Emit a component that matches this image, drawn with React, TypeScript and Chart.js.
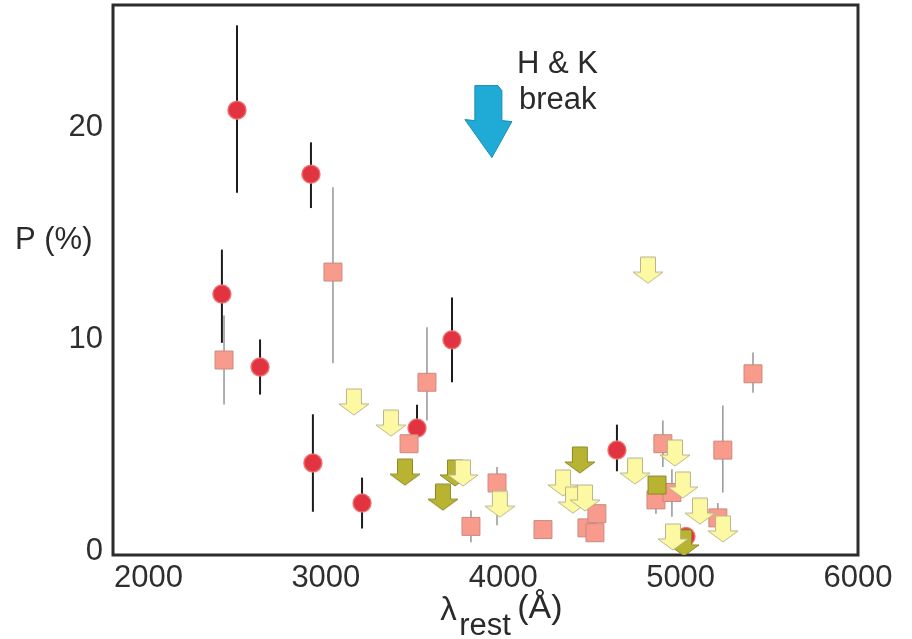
import React, { useEffect, useRef } from 'react';
import { Chart, registerables } from 'chart.js';
Chart.register(...registerables);

// ---- axis ticks ----
const xTicks = [2000, 3000, 4000, 5000, 6000];
const yTicks = [0, 10, 20];

// ---- red circles: detections (black error bars) ----
const circleX = [2499, 2916, 2414, 2629, 2927, 3204, 3711, 3514, 4641, 5030];
const circleY = [20.84, 17.82, 12.16, 8.72, 4.19, 2.3, 10.0, 5.84, 4.8, 0.72];
const circleErrLo = [3.9, 1.6, 2.3, 1.3, 2.3, 1.2, 2.0, 1.1, 1.0, 0];
const circleErrHi = [4.0, 1.5, 2.1, 1.3, 2.3, 1.2, 2.0, 1.1, 1.2, 0];

// ---- salmon squares (grey error bars) ----
const squareX = [3040, 2426, 3570, 3469, 3818, 3965, 4224, 4472, 4517, 4528, 4900, 4861, 4951, 5238, 5408, 5210];
const squareY = [13.2, 9.05, 8.0, 5.1, 1.2, 3.25, 1.05, 1.13, 0.9, 1.8, 5.1, 2.45, 2.8, 4.8, 8.4, 1.6];
const squareErrLo = [4.3, 2.1, 1.8, 0, 0.75, 2.0, 0, 0, 0, 0, 1.1, 0.65, 1.15, 2.0, 0.9, 0.3];
const squareErrHi = [4.0, 2.1, 2.6, 0, 0.75, 0.75, 0, 0, 0, 0.3, 1.1, 0, 1.1, 2.1, 1.0, 0.7];

// ---- olive square ----
const oliveSqX = [4867];
const oliveSqY = [3.15];

// ---- yellow upper-limit arrows ----
const yellowX = [3158, 3367, 3773, 3981, 4337, 4393, 4461, 4743, 4968, 5013, 5109, 4957, 5239, 4816];
const yellowY = [7.07, 6.07, 3.72, 2.25, 3.25, 2.44, 2.54, 3.81, 4.66, 3.15, 1.92, 0.7, 1.08, 13.29];

// ---- olive upper-limit arrows ----
const oliveX = [3446, 3660, 3728, 4432, 5019];
const oliveY = [3.76, 2.58, 3.72, 4.33, 0.42];

// ---- H & K break marker ----
const hkX = 3936;
const hkY = 18.6;

const FONT = '"Liberation Sans", Arial, Helvetica, sans-serif';

function makeArrow(fill: string, stroke: string): HTMLCanvasElement {
  const c = document.createElement('canvas');
  c.width = 32;
  c.height = 28;
  const g = c.getContext('2d')!;
  g.beginPath();
  g.moveTo(8.5, 1);
  g.lineTo(23.5, 1);
  g.lineTo(23.5, 16);
  g.lineTo(31, 16);
  g.lineTo(16, 27);
  g.lineTo(1, 16);
  g.lineTo(8.5, 16);
  g.closePath();
  g.fillStyle = fill;
  g.fill();
  g.strokeStyle = stroke;
  g.lineWidth = 1;
  g.stroke();
  return c;
}

const pts = (xs: number[], ys: number[]) => xs.map((x, i) => ({ x, y: ys[i] }));

export default function App() {
  const ref = useRef<HTMLCanvasElement>(null);
  useEffect(() => {
    const yellowArrow = makeArrow('#fdf8a2', '#b9b58c');
    const oliveArrow = makeArrow('#b8b432', '#8b8826');

    const overlay = {
      id: 'overlay',
      beforeDatasetsDraw(chart: any) {
        const { ctx, chartArea: a, scales } = chart;
        const xs = scales.x;
        const ys = scales.y;
        ctx.save();
        const drawErr = (X: number[], Y: number[], lo: number[], hi: number[], color: string, w: number) => {
          ctx.strokeStyle = color;
          ctx.lineWidth = w;
          X.forEach((xv, i) => {
            if (!lo[i] && !hi[i]) return;
            const px = xs.getPixelForValue(xv);
            ctx.beginPath();
            ctx.moveTo(px, ys.getPixelForValue(Y[i] + hi[i]));
            ctx.lineTo(px, ys.getPixelForValue(Y[i] - lo[i]));
            ctx.stroke();
          });
        };
        drawErr(squareX, squareY, squareErrLo, squareErrHi, '#8e8e8e', 1.4);
        drawErr(circleX, circleY, circleErrLo, circleErrHi, '#1c1c1c', 2);
        ctx.strokeStyle = '#2c2c2c';
        ctx.lineWidth = 3;
        ctx.strokeRect(a.left, a.top, a.right - a.left, a.bottom - a.top);
        ctx.restore();
      },
      afterDraw(chart: any) {
        const { ctx, scales } = chart;
        const xs = scales.x;
        const ys = scales.y;
        ctx.save();
        // blue H&K arrow
        const tx = xs.getPixelForValue(hkX);
        const ty = ys.getPixelForValue(hkY);
        ctx.beginPath();
        ctx.moveTo(tx - 17, ty - 72);
        ctx.lineTo(tx + 6, ty - 72);
        ctx.lineTo(tx + 10, ty - 67);
        ctx.lineTo(tx + 10, ty - 37);
        ctx.lineTo(tx + 20, ty - 36);
        ctx.lineTo(tx, ty);
        ctx.lineTo(tx - 27, ty - 38);
        ctx.lineTo(tx - 17, ty - 37);
        ctx.closePath();
        ctx.fillStyle = '#1fabd6';
        ctx.fill();
        ctx.strokeStyle = '#178cb3';
        ctx.lineWidth = 1;
        ctx.stroke();

        ctx.fillStyle = '#2a2a2a';
        ctx.textAlign = 'left';
        ctx.textBaseline = 'alphabetic';
        ctx.font = `31px ${FONT}`;
        ctx.fillText('H & K', tx + 25, ty - 85);
        ctx.fillText('break', tx + 27, ty - 49);

        // y axis title
        const yl = ys.getPixelForValue(14.3);
        ctx.fillText('P (%)', 15, yl);

        // x axis title: λ_rest (Å)
        const xc = xs.getPixelForValue(4000);
        const base = chart.height - 19;
        ctx.font = `33px ${FONT}`;
        ctx.fillText('λ', xc - 63, base);
        ctx.font = `31px ${FONT}`;
        ctx.fillText('rest', xc - 44, base + 15);
        ctx.font = `34px ${FONT}`;
        ctx.fillText('(Å)', xc + 14, base - 2);
        ctx.restore();
      },
    };

    const chart = new Chart(ref.current!, {
      type: 'scatter',
      data: {
        datasets: [
          {
            label: 'detections',
            data: pts(circleX, circleY),
            pointStyle: 'circle',
            pointRadius: 9,
            backgroundColor: '#e23340',
            borderColor: 'rgba(238,110,110,0.9)',
            borderWidth: 1.5,
            order: 5,
          },
          {
            label: 'squares',
            data: pts(squareX, squareY),
            pointStyle: 'rect',
            pointRadius: 12.7,
            backgroundColor: '#f89b8d',
            borderColor: '#c98a7e',
            borderWidth: 1,
            order: 4,
          },
          {
            label: 'olive square',
            data: pts(oliveSqX, oliveSqY),
            pointStyle: 'rect',
            pointRadius: 12.7,
            backgroundColor: '#b8b432',
            borderColor: '#8b8826',
            borderWidth: 1,
            order: 3,
          },
          {
            label: 'olive limits',
            data: pts(oliveX, oliveY),
            pointStyle: oliveArrow as any,
            order: 2,
          },
          {
            label: 'yellow limits',
            data: pts(yellowX, yellowY),
            pointStyle: yellowArrow as any,
            order: 1,
          },
        ],
      },
      options: {
        animation: false,
        responsive: true,
        maintainAspectRatio: false,
        events: [],
        layout: { autoPadding: false, padding: { top: 5, right: 54, left: 0, bottom: 0 } },
        plugins: { legend: { display: false }, tooltip: { enabled: false } },
        scales: {
          x: {
            type: 'linear',
            min: 1800,
            max: 6000,
            afterBuildTicks: (s: any) => {
              s.ticks = xTicks.map((v) => ({ value: v }));
            },
            afterFit: (s: any) => {
              s.height = 84;
              s.paddingLeft = 0;
              s.paddingRight = 0;
            },
            grid: { display: false, drawTicks: false },
            border: { display: false },
            ticks: {
              padding: 5,
              color: '#2e2e2e',
              font: { family: FONT, size: 31 },
              maxRotation: 0,
              autoSkip: false,
              callback: (v: any) => String(v),
            },
          },
          y: {
            type: 'linear',
            min: -0.15,
            max: 25.8,
            afterBuildTicks: (s: any) => {
              s.ticks = yTicks.map((v) => ({ value: v }));
            },
            afterFit: (s: any) => {
              s.width = 113;
              s.paddingTop = 0;
              s.paddingBottom = 0;
            },
            grid: { display: false, drawTicks: false },
            border: { display: false },
            ticks: {
              padding: 10,
              color: '#2e2e2e',
              font: { family: FONT, size: 31 },
              autoSkip: false,
              callback: (v: any) => String(v),
            },
          },
        },
      },
      plugins: [overlay],
    });
    return () => chart.destroy();
  }, []);

  return (
    <div style={{ position: 'fixed', left: 0, top: 0, width: 912, height: 639, background: '#fff' }}>
      <canvas ref={ref} />
    </div>
  );
}
